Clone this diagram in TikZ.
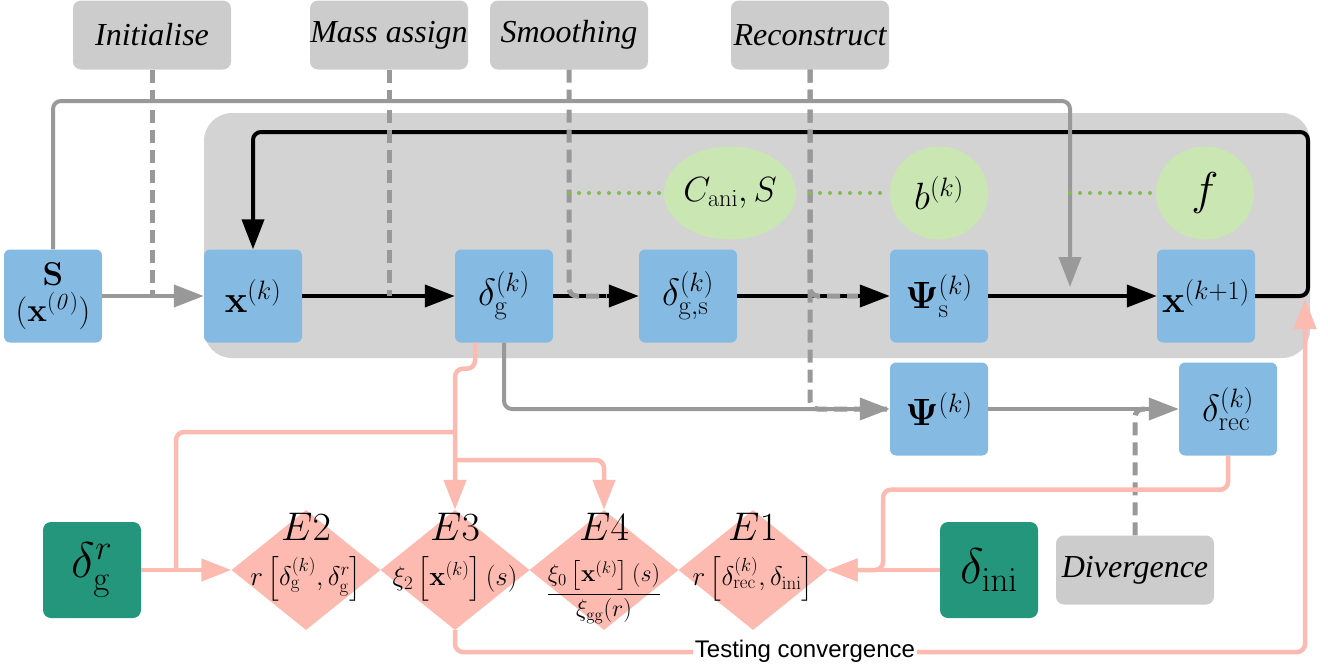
\RequirePackage{fix-cm}
\documentclass[tikz,border=0pt]{standalone}
\usepackage{amsmath}
\usepackage[no-math]{fontspec}
\setmainfont{Liberation Serif}
\setsansfont{Liberation Sans}
\usetikzlibrary{arrows.meta,shapes.geometric,backgrounds}
\definecolor{boxblue}{RGB}{133,187,227}
\definecolor{taggray}{RGB}{204,204,204}
\definecolor{loopgray}{RGB}{211,211,211}
\definecolor{parmgreen}{RGB}{201,230,179}
\definecolor{dotgreen}{RGB}{125,190,79}
\definecolor{refteal}{RGB}{35,150,123}
\definecolor{testpink}{RGB}{253,186,177}
\definecolor{flowgray}{RGB}{153,153,153}

\begin{document}
\begin{tikzpicture}[
  x=1pt, y=-1pt,
  >={Triangle[length=30pt,width=22pt]},
  stagetag/.style={fill=taggray, rounded corners=8pt, minimum width=158pt, minimum height=69pt,
    inner sep=0pt, font=\fontsize{32}{36}\selectfont\itshape},
  field/.style={fill=boxblue, rounded corners=6pt, minimum width=98pt, minimum height=93pt,
    inner sep=0pt, align=center, font=\fontsize{38}{42}\selectfont},
  param/.style={ellipse, fill=parmgreen, minimum width=98pt, minimum height=93pt, inner sep=0pt},
  refbox/.style={fill=refteal, rounded corners=8pt, minimum width=98pt, minimum height=96pt,
    inner sep=0pt, font=\fontsize{50}{54}\selectfont},
  testbox/.style={diamond, fill=testpink, minimum width=149pt, minimum height=120pt, inner sep=0pt},
  testname/.style={inner sep=0pt, font=\fontsize{40}{44}\selectfont},
  testeq/.style={inner sep=0pt, font=\fontsize{27}{30}\selectfont},
  convlabel/.style={fill=white, inner sep=2pt, font=\fontsize{24}{26}\selectfont\sffamily},
  mainarrow/.style={->, draw=black, line width=4pt, rounded corners=8pt},
  grayarrow/.style={->, draw=flowgray, line width=4pt, rounded corners=8pt},
  pinkline/.style={draw=testpink, line width=4.5pt, rounded corners=8pt},
  pinkarrow/.style={pinkline, ->},
  stepline/.style={draw=flowgray, line width=5pt, dash pattern=on 13pt off 7pt, rounded corners=8pt},
  dotline/.style={draw=dotgreen, line width=4pt, dash pattern=on 0pt off 10pt, line cap=round}
]
\useasboundingbox (0,0) rectangle (1328,670);

% Stage tags.
\node[stagetag] (init) at (152,35) {Initialise};
\node[stagetag] (mass) at (389,35) {Mass assign};
\node[stagetag] (smooth) at (569,35) {Smoothing};
\node[stagetag] (recon) at (810,35) {Reconstruct};
\node[stagetag] (diverg) at (1135,570) {Divergence};

% Iteration fields.
\node[field, font=\fontsize{33}{36}\selectfont] (s) at (53,296)
  {$\mathbf{S}$\\$(\mathbf{x}^{(\mathit{0})})$};
\node[field] (xk) at (253,296) {$\mathbf{x}^{(k)}$};
\node[field] (dg) at (504,296) {$\delta_{\mathrm{g}}^{(k)}$};
\node[field] (dgs) at (688,296) {$\delta_{\mathrm{g,s}}^{(k)}$};
\node[field] (psis) at (939,296) {$\mathbf{\Psi}_{\mathrm{s}}^{(k)}$};
\node[field] (xk1) at (1206,296) {$\mathbf{x}^{(k+1)}$};
\node[field] (psik) at (939,409) {$\mathbf{\Psi}^{(k)}$};
\node[field] (drec) at (1228,409) {$\delta_{\mathrm{rec}}^{(k)}$};

% Parameters.
\node[param, font=\fontsize{35}{37}\selectfont] (cani) at (730,193) {$C_{\mathrm{ani}}, S$};
\node[param, font=\fontsize{38}{40}\selectfont] (bk) at (939,193) {$b^{(k)}$};
\node[param, font=\fontsize{46}{48}\selectfont] (fgr) at (1205,193) {$f$};

% Reference fields.
\node[refbox] (dgr) at (92,570) {$\delta_{\mathrm{g}}^{r}$};
\node[refbox] (dini) at (989,570) {$\delta_{\mathrm{ini}}$};

% Convergence tests.
\node[testbox] (e2) at (306,570) {};
\node[testbox] (e3) at (455,570) {};
\node[testbox] (e4) at (604,570) {};
\node[testbox] (e1) at (753,570) {};
\node[testname] (e2name) at (306,527) {$E2$};
\node[testname] (e3name) at (455,527) {$E3$};
\node[testname] (e4name) at (604,527) {$E4$};
\node[testname] (e1name) at (753,527) {$E1$};
\node[testeq] (e2eq) at (306,579)
  {$r\left[\delta_{\mathrm{g}}^{(k)}, \delta_{\mathrm{g}}^{r}\right]$};
\node[testeq] (e3eq) at (455,579) {$\xi_2\left[\mathbf{x}^{(k)}\right](s)$};
\node[testeq, font=\fontsize{24}{26}\selectfont] (e4eq) at (604,592)
  {$\dfrac{\xi_0\left[\mathbf{x}^{(k)}\right](s)}{\xi_{\mathrm{gg}}(r)}$};
\node[testeq] (e1eq) at (753,579)
  {$r\left[\delta_{\mathrm{rec}}^{(k)}, \delta_{\mathrm{ini}}\right]$};

\coordinate (gtop) at (1070,101);
\coordinate (merge) at (1070,287);
\coordinate (fbc) at (1308,132);
\coordinate (fork1) at (455,432);
\coordinate (fork2) at (455,460);
\coordinate (gjoin) at (176,570);
\coordinate (rjoin) at (883,570);
\coordinate (loopc) at (1305,652);
\coordinate (loopend) at (1305,299);

\begin{scope}[on background layer]
\fill[loopgray, rounded corners=28pt] (204,113) rectangle (1310,358);
\end{scope}

% Main iteration.
\draw[mainarrow] (xk) -- (dg);
\draw[mainarrow] (dg) -- (dgs);
\draw[mainarrow] (dgs) -- (psis);
\draw[mainarrow] (psis) -- (xk1);
\draw[mainarrow] (xk1.east) -| (fbc) -| (xk.north);

% Side flows.
\draw[grayarrow] (s) -- (xk);
\draw[grayarrow] (s.north) |- (gtop) -- (merge);
\draw[grayarrow] (dg.south) |- (psik);
\draw[grayarrow] (psik) -- (drec);

% Stage hints.
\draw[stepline] (init) -- (init |- s);
\draw[stepline] (mass) -- (mass |- xk);
\draw[stepline, shorten >=32pt] (smooth) |- (dgs);
\draw[stepline, shorten >=32pt] (recon) |- (psis);
\draw[stepline] (recon) |- (psik);
\draw[stepline, shorten >=32pt] (diverg) |- (drec);

\draw[dotline] (smooth |- cani) -- (cani);
\draw[dotline] (recon |- bk) -- (bk);
\draw[dotline] (merge |- fgr) -- (fgr);

% Tests.
\draw[pinkarrow] (dgr) -- (e2);
\draw[pinkarrow] ([xshift=-29pt]dg.south) -- ++(0,26) -| (e3.north);
\draw[pinkline] (fork1) -| (gjoin);
\draw[pinkarrow] (fork2) -| (e4.north);
\draw[pinkarrow] (drec.south) -- ++(0,34) -| (rjoin) -- (e1.east);
\draw[pinkarrow] (dini) -- (e1);
\draw[pinkarrow] (e3.south) |- (loopc) -- (loopend);
\node[convlabel] (conv) at (805,651) {Testing convergence};

\end{tikzpicture}
\end{document}
